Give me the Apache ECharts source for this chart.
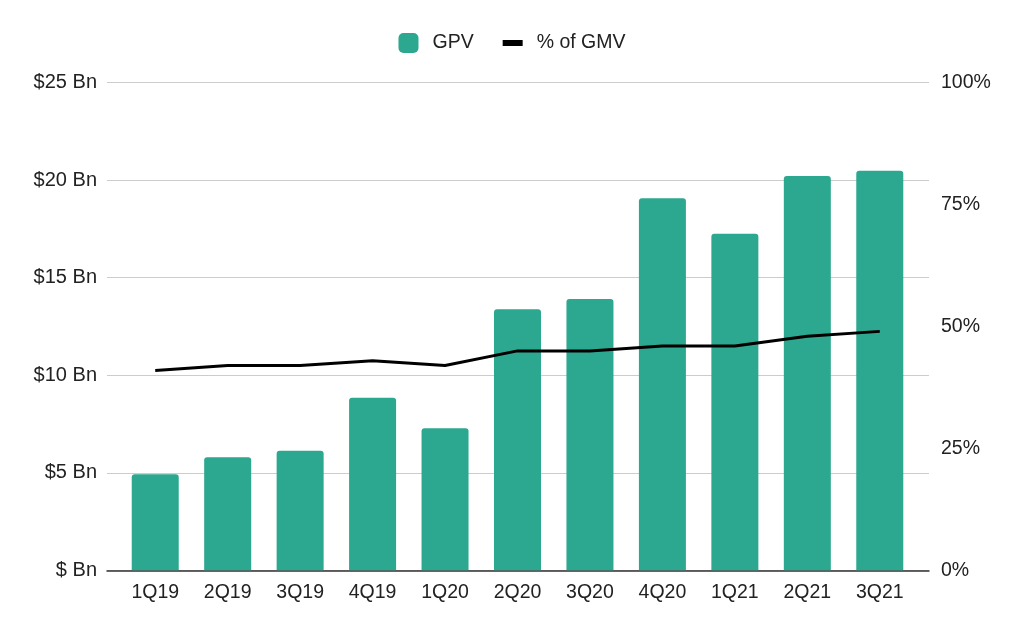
<!DOCTYPE html>
<html>
<head>
<meta charset="utf-8">
<script src="https://cdn.jsdelivr.net/npm/echarts@6/dist/echarts.min.js"></script>
<style>
  html, body { margin: 0; padding: 0; background: #fff; }
  #chart { width: 1024px; height: 633px; }
</style>
</head>
<body>
<div id="chart"></div>
<script>
const quarters = ['1Q19', '2Q19', '3Q19', '4Q19', '1Q20', '2Q20', '3Q20', '4Q20', '1Q21', '2Q21', '3Q21']
const gpv = [4.92, 5.79, 6.13, 8.85, 7.28, 13.38, 13.91, 19.08, 17.25, 20.22, 20.48]
const pctOfGmv = [41, 42, 42, 43, 42, 45, 45, 46, 46, 48, 49]

const font = 'Liberation Sans, Arial, Helvetica, sans-serif'
const txt = '#222'

const chart = echarts.init(document.getElementById('chart'))
const option = {
  animation: false,
  textStyle: { fontFamily: font },
  legend: {
    top: 28,
    left: 'center',
    itemGap: 29,
    itemWidth: 20,
    itemHeight: 20,
    textStyle: { fontSize: 19.5, color: txt, fontFamily: font, padding: [0, 0, 0, 9] },
    data: [
      { name: 'GPV', icon: 'roundRect' },
      { name: '% of GMV', icon: 'path://M0,0 H20 V6 H0 Z', itemStyle: { color: '#000' } }
    ]
  },
  grid: [
    // wide grid: gridlines, baseline and $ labels
    { left: 107, right: 95, top: 82.7, bottom: 62.7 },
    // narrower grid for the bars / line
    { left: 119, right: 108, top: 82.7, bottom: 62.7 }
  ],
  xAxis: [
    {
      gridIndex: 0, type: 'value', min: 0, max: 1,
      axisLine: { show: true, lineStyle: { color: '#333', width: 1.5 } },
      axisTick: { show: false }, axisLabel: { show: false }, splitLine: { show: false }
    },
    {
      gridIndex: 1, type: 'category', data: quarters,
      axisLine: { show: false }, axisTick: { show: false },
      axisLabel: { fontSize: 19.5, color: txt, margin: 12, fontFamily: font }
    }
  ],
  yAxis: [
    {
      gridIndex: 0, type: 'value', min: 0, max: 25, interval: 5,
      axisLine: { show: false }, axisTick: { show: false },
      axisLabel: {
        fontSize: 20, color: txt, margin: 10, fontFamily: font,
        formatter: v => v === 0 ? '$ Bn' : '$' + v + ' Bn'
      },
      splitLine: { lineStyle: { color: '#ccc', width: 1 } }
    },
    {
      gridIndex: 1, type: 'value', min: 0, max: 25, interval: 5, show: false
    },
    {
      gridIndex: 1, type: 'value', position: 'right', min: 0, max: 100, interval: 25,
      axisLine: { show: false }, axisTick: { show: false },
      axisLabel: { fontSize: 19.5, color: txt, margin: 25, fontFamily: font, formatter: '{value}%' },
      splitLine: { show: false }
    }
  ],
  series: [
    {
      name: 'GPV', type: 'bar', xAxisIndex: 1, yAxisIndex: 1,
      data: gpv, barWidth: 47,
      itemStyle: { color: '#2ba88f', borderRadius: [3, 3, 0, 0] }
    },
    {
      name: '% of GMV', type: 'line', xAxisIndex: 1, yAxisIndex: 2,
      data: pctOfGmv, symbol: 'none',
      lineStyle: { color: '#000', width: 3 },
      itemStyle: { color: '#000' }
    }
  ]
}
chart.setOption(option)
</script>
</body>
</html>
